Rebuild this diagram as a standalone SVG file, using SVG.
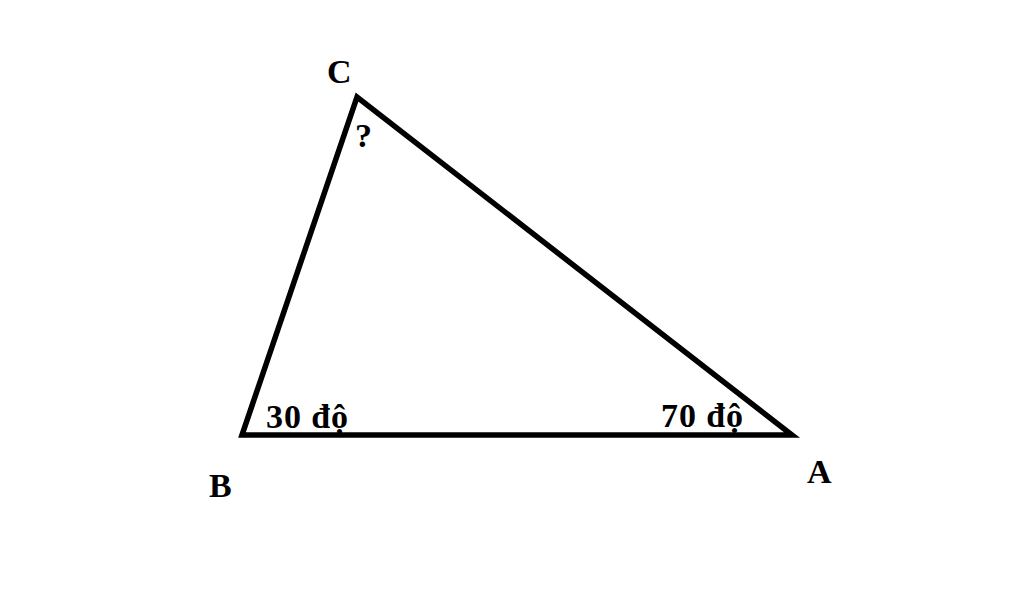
<svg xmlns="http://www.w3.org/2000/svg" width="1024" height="593" viewBox="0 0 1024 593">
<style>
.lbl{font-family:"Liberation Serif","Times New Roman",serif;font-weight:bold;font-size:34px;fill:#000}
.edge{fill:none;stroke:#000;stroke-width:5.5;stroke-linejoin:miter;stroke-linecap:butt}
</style>
<rect width="1024" height="593" fill="#fff"/>
<g id="connectors">
<path class="edge" d="M242,435 L357,97 L792,435 Z"/>
</g>
<g id="node-C"><text class="lbl" x="327" y="83">C</text></g>
<g id="node-B"><text class="lbl" x="209" y="497">B</text></g>
<g id="node-A"><text class="lbl" x="807" y="483">A</text></g>
<g id="angle-C"><text class="lbl" x="355" y="147">?</text></g>
<g id="angle-B"><text class="lbl" x="266" y="428" textLength="82" lengthAdjust="spacing">30 độ</text></g>
<g id="angle-A"><text class="lbl" x="661" y="427" textLength="82" lengthAdjust="spacing">70 độ</text></g>
</svg>
